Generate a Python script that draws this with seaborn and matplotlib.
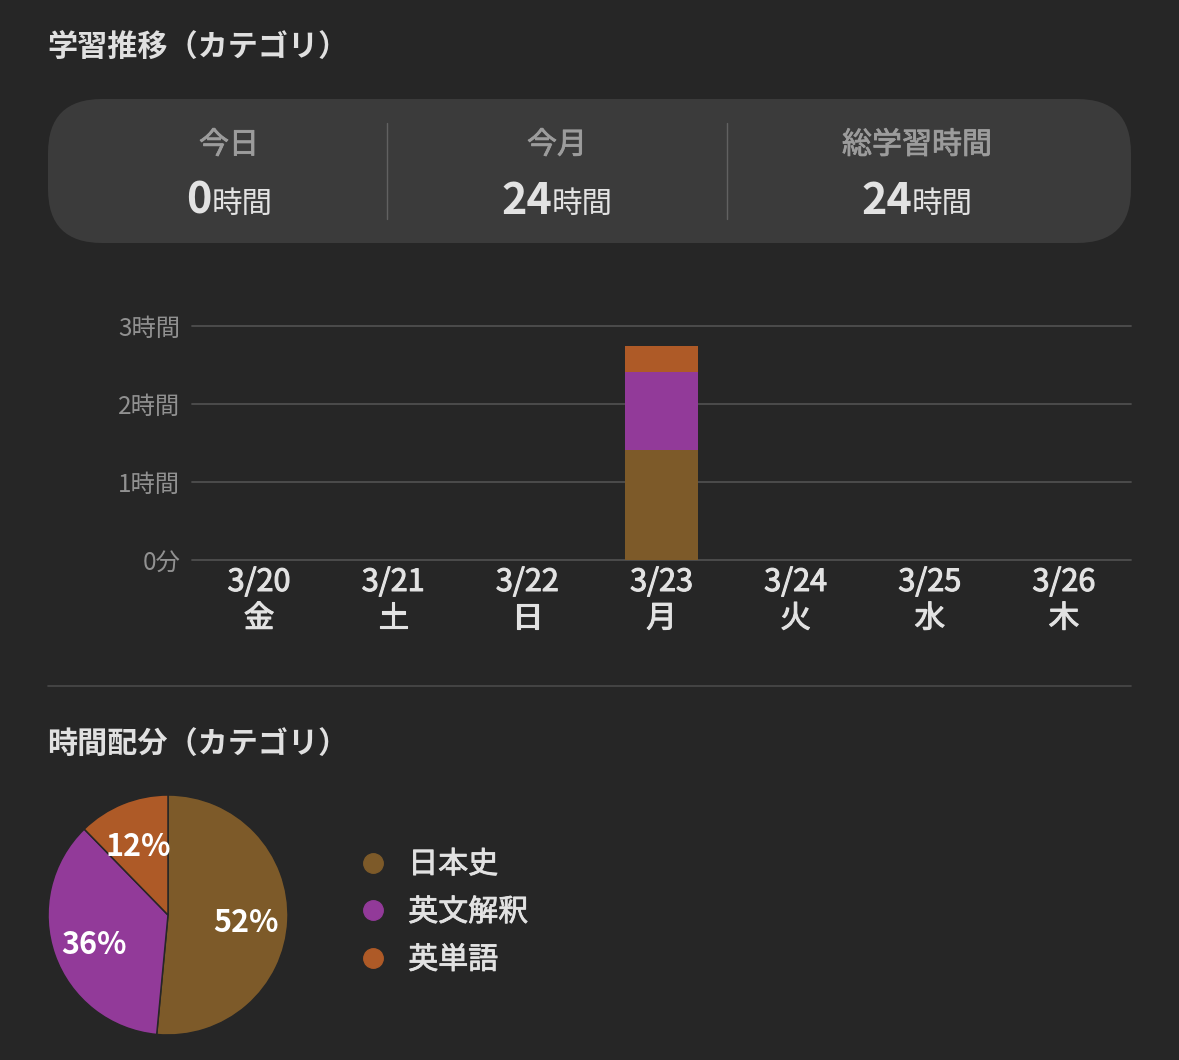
import matplotlib
matplotlib.use('Agg')
import matplotlib.pyplot as plt
import matplotlib.patheffects as pe
import numpy as np
import seaborn as sns
from matplotlib.lines import Line2D
from matplotlib.patches import FancyBboxPatch

# data
dates = ['3/20', '3/21', '3/22', '3/23', '3/24', '3/25', '3/26']
weekdays = ['金', '土', '日', '月', '火', '水', '木']
categories = ['日本史', '英文解釈', '英単語']
history_hours = [0, 0, 0, 1.41, 0, 0, 0]
reading_hours = [0, 0, 0, 1.00, 0, 0, 0]
vocab_hours = [0, 0, 0, 0.34, 0, 0, 0]
share_values = [51.5, 36.2, 12.3]
share_labels = ['52%', '36%', '12%']
y_ticks = [0, 1, 2, 3]
y_tick_labels = ['0分', '1時間', '2時間', '3時間']
stat_names = ['今日', '今月', '総学習時間']
stat_values = ['0', '24', '24']
stat_unit = '時間'

BG = '#262626'
PANEL = '#3b3b3b'
GRID = '#4e4e4e'
colors = ['#7d5a29', '#923a99', '#ae5a27']


def thicken(text, width=0.5):
    # the installed font has no medium weight, so fake it with a thin stroke
    text.set_path_effects([pe.withStroke(linewidth=width, foreground=text.get_color())])


sns.set_theme(style='dark')
plt.rcParams['font.family'] = ['Noto Sans CJK JP', 'DejaVu Sans']

W, H = 1179, 1060
fig = plt.figure(figsize=(W / 100, H / 100), dpi=100, facecolor=BG)

# overlay in pixel coordinates for the page furniture
page = fig.add_axes([0, 0, 1, 1], zorder=0)
page.set_xlim(0, W)
page.set_ylim(H, 0)
page.axis('off')

page.text(47, 48, '学習推移（カテゴリ）', color='#e0e0e0', fontsize=21.7, fontweight='bold', va='center')
page.text(47, 744, '時間配分（カテゴリ）', color='#e0e0e0', fontsize=21.7, fontweight='bold', va='center')

page.add_patch(FancyBboxPatch((48, 99), 1083, 144, boxstyle='round,pad=0,rounding_size=54',
                              fc=PANEL, ec='none', zorder=1))
for x in [387, 727]:
    page.plot([x, x], [123, 219], color='#616161', lw=1, zorder=2)
page.plot([48, 1131], [686, 686], color='#4a4a4a', lw=1.2)

centers = [229, 557, 917]
joints = [212, 552, 912]
for cx, jx, name, val in zip(centers, joints, stat_names, stat_values):
    t = page.text(cx, 145, name, color='#9c9c9c', fontsize=21.6,
                  ha='center', va='center', zorder=3)
    thicken(t, 0.6)
    page.text(jx, 214, val, color='#e2e2e2', fontsize=31, fontweight='bold',
              ha='right', va='baseline', zorder=3)
    page.text(jx, 213, stat_unit, color='#e2e2e2', fontsize=22,
              ha='left', va='baseline', zorder=3)

# stacked bars
ax = fig.add_axes([192 / W, 1 - 560 / H, 939 / W, 234 / H], zorder=2)
ax.patch.set_alpha(0)
x_labels = [f'{d}\n{w}' for d, w in zip(dates, weekdays)]
bottom = [0] * len(dates)
for series, color in zip([history_hours, reading_hours, vocab_hours], colors):
    sns.barplot(x=x_labels, y=series, bottom=bottom, color=color, saturation=1,
                width=0.537, errorbar=None, linewidth=0, ax=ax, zorder=3)
    bottom = [b + v for b, v in zip(bottom, series)]

ax.set_ylim(0, 3)
ax.set_xlim(-0.5, 6.5)
ax.set_yticks(y_ticks)
ax.set_yticklabels(y_tick_labels, color='#919191', fontsize=17.5)
ax.tick_params(axis='y', length=0, pad=8.5)
ax.tick_params(axis='x', length=0, pad=5, labelcolor='#e2e2e2', labelsize=22)
for lab in ax.get_xticklabels():
    lab.set_linespacing(1.22)
    thicken(lab, 0.8)
ax.grid(axis='y', color=GRID, lw=1.3, zorder=0, clip_on=False)
ax.grid(axis='x', visible=False)
ax.set_axisbelow(True)
sns.despine(ax=ax, left=True, bottom=True, top=True, right=True)
ax.set_xlabel('')
ax.set_ylabel('')

# share pie
r_pad = 1.02
side = 240 * r_pad
pie_ax = fig.add_axes([(168 - side / 2) / W, 1 - (915 + side / 2) / H, side / W, side / H], zorder=2)
wedges, _ = pie_ax.pie(share_values, colors=colors, startangle=90, counterclock=False, radius=1,
                       wedgeprops={'edgecolor': BG, 'linewidth': 1.1})
pie_ax.set_xlim(-r_pad, r_pad)
pie_ax.set_ylim(-r_pad, r_pad)

# percent labels sit at 65% of the radius, on each slice's middle
for w, label in zip(wedges, share_labels):
    mid = np.deg2rad((w.theta1 + w.theta2) / 2)
    pie_ax.text(0.65 * np.cos(mid), 0.65 * np.sin(mid) - 0.035, label, color='white', fontsize=22,
                fontweight='bold', ha='center', va='center')

handles = [Line2D([], [], marker='o', ls='', ms=14, mfc=c, mec=c) for c in colors]
leg = fig.legend(handles, categories, loc='upper left', bbox_to_anchor=(342.5 / W, 1 - 849 / H),
                 frameon=False, fontsize=21.6, labelspacing=0.56, handletextpad=0.19,
                 borderpad=0, borderaxespad=0, labelcolor='#e2e2e2')
for t in leg.get_texts():
    thicken(t, 0.6)

fig.savefig('out.png', dpi=100, facecolor=BG)
